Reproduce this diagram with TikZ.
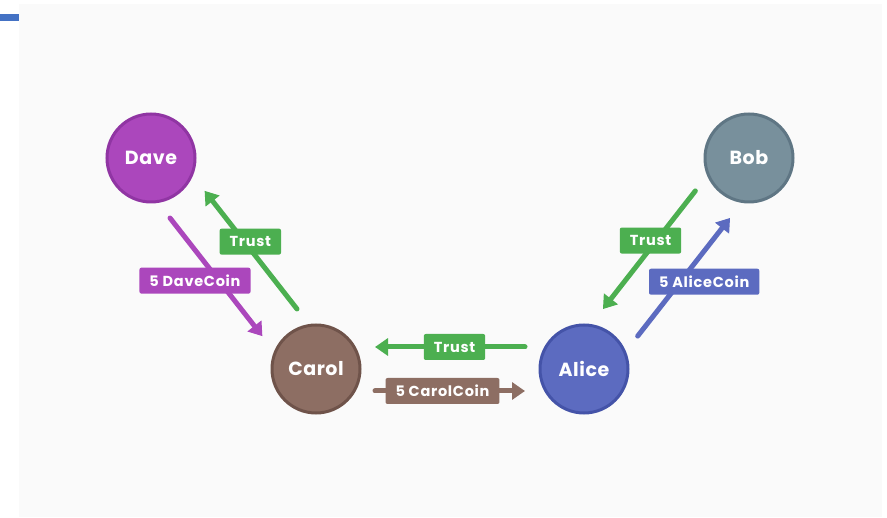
\documentclass[tikz,border=0pt]{standalone}
\usepackage{fontspec}
\setmainfont{Poppins}
\usepackage{tikz}
\usetikzlibrary{arrows.meta}
\usetikzlibrary{calc}

\definecolor{page}{HTML}{FAFAFA}
\definecolor{tabblue}{HTML}{4472C4}
\definecolor{davecol}{HTML}{AB47BC}
\definecolor{daveline}{HTML}{9035A3}
\definecolor{bobcol}{HTML}{78909C}
\definecolor{bobline}{HTML}{5F7684}
\definecolor{carolcol}{HTML}{8D6E63}
\definecolor{carolline}{HTML}{6F534A}
\definecolor{alicecol}{HTML}{5C6BC0}
\definecolor{aliceline}{HTML}{4453A8}
\definecolor{trustcol}{HTML}{4CAF50}

\tikzset{
  person/.style={circle, fill=#1col, draw=#1line, line width=3pt, minimum size=88pt,
    inner sep=0pt, text=white,
    font=\fontsize{19}{21}\selectfont\bfseries\addfontfeature{LetterSpace=3}},
  link/.style={#1, line width=5pt, line cap=round,
    -{Triangle[width=17pt,length=13pt]}},
  tag/.style={fill=#1, text=white, rounded corners=2pt, minimum height=26pt,
    inner xsep=10pt, inner ysep=0pt,
    font=\fontsize{14.5}{16}\selectfont\bfseries\addfontfeature{LetterSpace=5}}
}
% start and end of an arrow between two people, on the right of its way
\newcommand{\fromto}[2]{($(#1)!59pt!(#2)!22pt!-90:(#2)$) -- ($(#1)!209pt!(#2)!22pt!-90:(#2)$)}

\begin{document}
\begin{tikzpicture}[x=1pt,y=-1pt]
\useasboundingbox (0,0) rectangle (887,518);
\fill[page] (19,4) rectangle (882,517);
\fill[tabblue] (0,14) rectangle (19,21);

% people
\node[person=dave]  (Dave)  at (151,158) {Dave};
\node[person=bob]   (Bob)   at (749,158) {Bob};
\node[person=carol] (Carol) at (316,369) {Carol};
\node[person=alice] (Alice) at (584,369) {Alice};

% trust lines and coins
\draw[link=davecol] \fromto{Dave}{Carol}
  node[tag=davecol, pos=0.53, xshift=-24pt] (daveCoin) {5 DaveCoin};
\draw[link=trustcol] \fromto{Carol}{Dave}
  node[tag=trustcol, pos=0.57, xshift=6pt] (carolTrust) {Trust};
\draw[link=trustcol] \fromto{Alice}{Carol}
  node[tag=trustcol, pos=0.47] (aliceTrust) {Trust};
\draw[link=carolcol] \fromto{Carol}{Alice}
  node[tag=carolcol, pos=0.45] (carolCoin) {5 CarolCoin};
\draw[link=trustcol] \fromto{Bob}{Alice}
  node[tag=trustcol, pos=0.42, xshift=-6pt] (bobTrust) {Trust};
\draw[link=alicecol] \fromto{Alice}{Bob}
  node[tag=alicecol, pos=0.46, xshift=24pt] (aliceCoin) {5 AliceCoin};
\end{tikzpicture}
\end{document}
